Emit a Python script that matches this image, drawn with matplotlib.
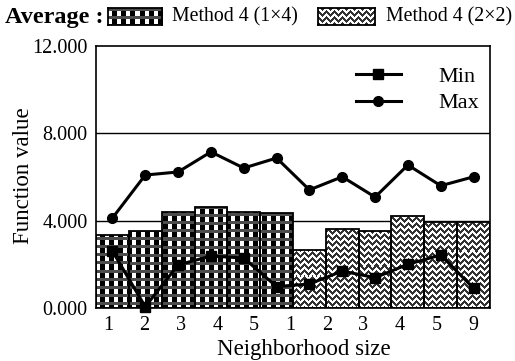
import numpy as np
import matplotlib.pyplot as plt
from matplotlib.lines import Line2D

plt.rcParams['font.family'] = ['Liberation Serif', 'DejaVu Serif']

# average function value per neighbourhood size
size_labels = ['1', '2', '3', '4', '5', '1', '2', '3', '4', '5', '9']
avg_1x4 = [3.35, 3.54, 4.41, 4.61, 4.41, 4.37]
avg_2x2 = [2.66, 3.60, 3.53, 4.21, 3.95, 3.95]
min_vals = [2.61, 0.06, 1.97, 2.38, 2.29, 0.98, 1.10, 1.69, 1.39, 2.00, 2.43, 0.90]
max_vals = [4.12, 6.09, 6.23, 7.15, 6.41, 6.87, 5.41, 6.01, 5.08, 6.55, 5.60, 6.01]

W, H = 515, 361


def tex_1x4(h, w):
    # white squares in black columns, grey bands across
    yy, xx = np.mgrid[0:h, 0:w]
    img = np.where(xx % 9 < 4, 1.0, 0.0)
    img[(yy % 8) < 3] = 0.3
    return img


def tex_2x2(h, w):
    # zigzag weave
    yy, xx = np.mgrid[0:h, 0:w]
    t = (yy + np.abs((xx % 8) - 4)) % 6
    return np.where(t < 3, 0.2, 1.0)


n1 = len(avg_1x4)
n2 = len(avg_2x2)
ntot = n1 + n2
x1 = np.arange(n1) + 0.5
x2 = np.arange(n2) + n1 + 0.5
xall = np.arange(ntot) + 0.5

fig = plt.figure(figsize=(W / 100, H / 100), dpi=100)
ax = fig.add_axes([96 / W, 1 - 308 / H, 394 / W, 262 / H])
ax_w, ax_h = 394, 262

for yv in (4, 8):
    ax.axhline(yv, color='black', lw=1.0, zorder=0)

bars1 = ax.bar(x1, avg_1x4, width=1.0, color='none', edgecolor='black', lw=1.3, zorder=1.2)
bars2 = ax.bar(x2, avg_2x2, width=1.0, color='none', edgecolor='black', lw=1.3, zorder=1.2)

img1 = tex_1x4(ax_h, ax_w)
img2 = tex_2x2(ax_h, ax_w)
for bars, img in ((bars1, img1), (bars2, img2)):
    for b in bars:
        im = ax.imshow(img, cmap='gray', vmin=0, vmax=1, extent=(0, ntot, 0, 12),
                       aspect='auto', interpolation='nearest', zorder=1)
        im.set_clip_path(b)

ax.plot(xall, min_vals, color='black', lw=2.2, marker='s', ms=7.5, zorder=3, clip_on=False)
ax.plot(xall, max_vals, color='black', lw=2.2, marker='o', ms=7, zorder=3, clip_on=False)

ax.set_xlim(0, ntot)
ax.set_ylim(0, 12)
ax.set_yticks([0, 4, 8, 12])
ax.set_yticklabels(['0.000', '4.000', '8.000', '12.000'], fontsize=14.5)
ax.set_xticks(np.linspace(0.37, 11.48, len(size_labels)))
ax.set_xticklabels(size_labels, fontsize=14.5)
ax.tick_params(length=0, pad=6)
ax.set_xlabel('Neighborhood size', fontsize=16.5)
ax.xaxis.set_label_coords(0.528, -0.118)
ax.set_ylabel('Function value', fontsize=16.5)
ax.yaxis.set_label_coords(-0.158, 0.506)
for s in ax.spines.values():
    s.set_linewidth(1.2)

line_handles = [
    Line2D([], [], color='black', lw=2.2, marker='s', ms=7),
    Line2D([], [], color='black', lw=2.2, marker='o', ms=7),
]
ax.legend(line_handles, ['Min', 'Max'], loc='upper right', frameon=False,
          fontsize=16, handlelength=2.0, handletextpad=1.7, borderaxespad=0.0,
          labelspacing=0.25, bbox_to_anchor=(0.995, 0.955))

# header legend with texture swatches
fig.text(5 / W, 1 - 17 / H, 'Average :', fontsize=17.5, fontweight='bold', va='center')
swatches = [((108, 8, 54, 17), tex_1x4, 'Method 4 (1\u00d74)', 172),
            ((318, 8, 57, 17), tex_2x2, 'Method 4 (2\u00d72)', 386)]
for (sx, sy, sw, sh), tex, label, tx in swatches:
    sax = fig.add_axes([sx / W, 1 - (sy + sh) / H, sw / W, sh / H])
    sax.imshow(tex(sh, sw), cmap='gray', vmin=0, vmax=1, aspect='auto',
               interpolation='nearest')
    sax.set_xticks([])
    sax.set_yticks([])
    for s in sax.spines.values():
        s.set_linewidth(1.3)
    fig.text(tx / W, 1 - 16.5 / H, label, fontsize=14.3, va='center')

fig.savefig('out.png', dpi=100)
